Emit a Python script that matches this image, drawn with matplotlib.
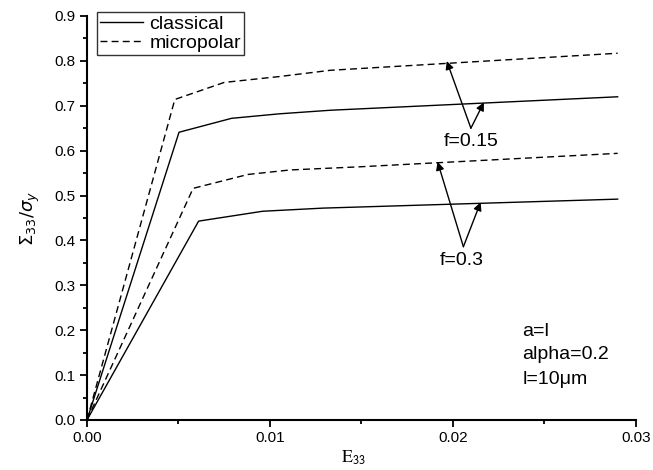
import numpy as np
import matplotlib
matplotlib.use('Agg')
import matplotlib.pyplot as plt
from matplotlib.ticker import MultipleLocator, FormatStrFormatter

# strain E33 / normalized stress
e_cls_015 = [0.0, 0.00503, 0.0079, 0.0105, 0.0133, 0.0290]
s_cls_015 = [0.0, 0.641, 0.672, 0.682, 0.690, 0.720]

e_mic_015 = [0.0, 0.0048, 0.0075, 0.0105, 0.0133, 0.0290]
s_mic_015 = [0.0, 0.714, 0.752, 0.765, 0.779, 0.817]

e_cls_03 = [0.0, 0.0061, 0.0096, 0.0129, 0.0290]
s_cls_03 = [0.0, 0.443, 0.465, 0.472, 0.492]

e_mic_03 = [0.0, 0.0058, 0.0088, 0.0111, 0.0149, 0.0290]
s_mic_03 = [0.0, 0.516, 0.547, 0.557, 0.564, 0.594]

plt.rcParams['font.family'] = ['Liberation Sans', 'DejaVu Sans']

fig = plt.figure(figsize=(6.53, 4.70), dpi=100)
ax = fig.add_axes([0.1332, 0.1064, 0.8407, 0.8596])

dash = (0, (5, 3))
ax.plot(e_cls_015, s_cls_015, color='black', lw=1.0, label='classical')
ax.plot(e_mic_015, s_mic_015, color='black', lw=1.0, linestyle=dash, label='micropolar')
ax.plot(e_cls_03, s_cls_03, color='black', lw=1.0)
ax.plot(e_mic_03, s_mic_03, color='black', lw=1.0, linestyle=dash)

ax.set_xlim(0, 0.03)
ax.set_ylim(0, 0.9)
ax.xaxis.set_major_locator(MultipleLocator(0.01))
ax.xaxis.set_minor_locator(MultipleLocator(0.005))
ax.yaxis.set_major_locator(MultipleLocator(0.1))
ax.yaxis.set_minor_locator(MultipleLocator(0.05))
ax.xaxis.set_major_formatter(FormatStrFormatter('%.2f'))
ax.yaxis.set_major_formatter(FormatStrFormatter('%.1f'))

for s in ['top', 'right']:
    ax.spines[s].set_visible(False)
for s in ['left', 'bottom']:
    ax.spines[s].set_linewidth(1.5)
ax.tick_params(which='major', direction='out', length=5, width=1.3, labelsize=11, pad=3)
ax.tick_params(which='minor', direction='out', length=3, width=1.3)

ax.set_xlabel(r'$\mathrm{E}_{\mathsf{33}}$', fontsize=13, math_fontfamily='stix')
ax.xaxis.set_label_coords(0.486, -0.07)
ax.set_ylabel(r'$\Sigma_{33}/\sigma_{y}$', fontsize=13, labelpad=9)

leg = ax.legend(loc='upper left', bbox_to_anchor=(0.018, 1.0099), fontsize=14,
                frameon=True, fancybox=False, edgecolor='black',
                handlelength=2.2, borderpad=0.15, labelspacing=0.1,
                handletextpad=0.35, borderaxespad=0.0)
leg.get_frame().set_linewidth(1.0)

arr = dict(arrowstyle='-|>', color='black', lw=1.0, mutation_scale=12,
           shrinkA=0, shrinkB=0)
# f = 0.15
ax.annotate('', xy=(0.01966, 0.7996), xytext=(0.02098, 0.650), arrowprops=arr)
ax.annotate('', xy=(0.02169, 0.7076), xytext=(0.02098, 0.650), arrowprops=arr)
ax.text(0.02102, 0.620, 'f=0.15', fontsize=14, ha='center', va='center')
# f = 0.3
ax.annotate('', xy=(0.01916, 0.575), xytext=(0.02057, 0.386), arrowprops=arr)
ax.annotate('', xy=(0.02151, 0.485), xytext=(0.02057, 0.386), arrowprops=arr)
ax.text(0.02047, 0.356, 'f=0.3', fontsize=14, ha='center', va='center')

ax.text(0.0238, 0.197, 'a=l', fontsize=14, ha='left', va='center')
ax.text(0.0238, 0.145, 'alpha=0.2', fontsize=14, ha='left', va='center')
ax.text(0.0238, 0.091, 'l=10\u03bcm', fontsize=14, ha='left', va='center')

fig.savefig('out.png', dpi=100)
